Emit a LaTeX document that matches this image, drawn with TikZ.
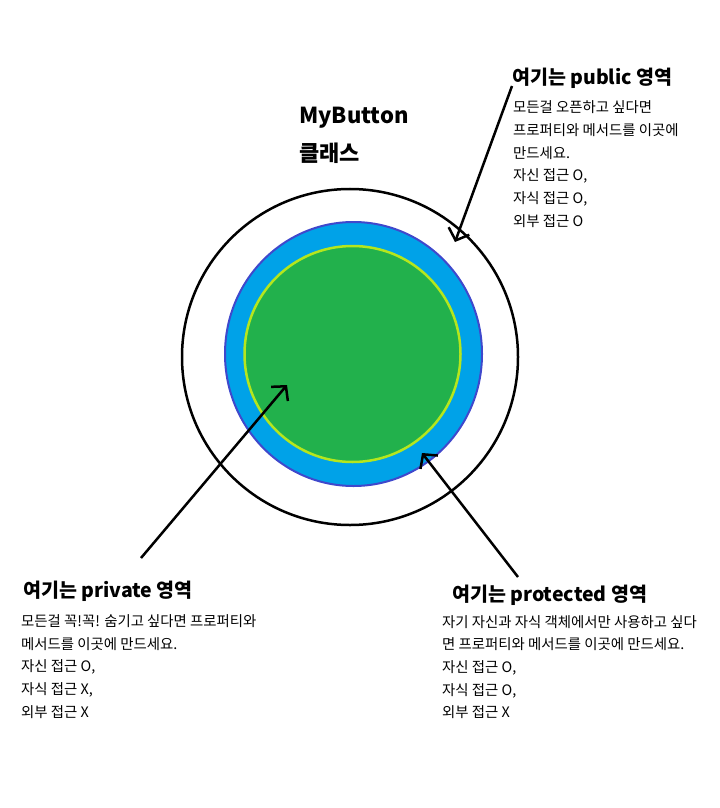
\documentclass[tikz,border=0pt]{standalone}
\usepackage{fontspec}
\setmainfont{Noto Sans CJK KR}
\usetikzlibrary{arrows.meta,shapes.geometric}
\definecolor{paintblue}{HTML}{00A2E8}
\definecolor{paintindigo}{HTML}{3F48CC}
\definecolor{paintgreen}{HTML}{22B14C}
\definecolor{paintlime}{HTML}{B5E61D}

\begin{document}
\begin{tikzpicture}[x=1bp,y=-1bp,>={Straight Barb[length=10bp,width=22bp]},
    pointer/.style={line width=2.5bp,->},
    title/.style={font=\fontsize{22bp}{26bp}\selectfont\bfseries,anchor=base west,inner sep=0},
    head/.style={font=\fontsize{19.5bp}{23bp}\selectfont\bfseries,anchor=base west,inner sep=0},
    body/.style={font=\fontsize{14.4bp}{17bp}\selectfont,anchor=base west,inner sep=0}]
  \useasboundingbox (0,0) rectangle (720,808);

  % the class and its three areas
  \node[circle,draw,line width=2.5bp,minimum size=336bp,inner sep=0] (class) at (350,357) {};
  \node[ellipse,draw=paintindigo,fill=paintblue,line width=2bp,
        minimum width=257bp,minimum height=264bp,inner sep=0] (protected) at (353.5,354) {};
  \node[circle,draw=paintlime,fill=paintgreen,line width=2.5bp,
        minimum size=216bp,inner sep=0] (private) at (352.5,354) {};

  \node[title] (name) at (299,123) {MyButton};
  \node[title] (kind) at (299,161) {클래스};

  % public
  \node[head] (pubhead) at (512,84) {여기는 public 영역};
  \foreach \line [count=\i] in {{모든걸 오픈하고 싶다면},{프로퍼티와 메서드를 이곳에},{만드세요.},
      {자신 접근 O,},{자식 접근 O,},{외부 접근 O}}
    \node[body] (pub\i) at (513,112.5+22.8*\i-22.8) {\line};

  % private
  \node[head] (privhead) at (23,597) {여기는 private 영역};
  \foreach \line [count=\i] in {{모든걸 꼭!꼭! 숨기고 싶다면 프로퍼티와},{메서드를 이곳에 만드세요.},
      {자신 접근 O,},{자식 접근 X,},{외부 접근 X}}
    \node[body] (priv\i) at (21,626.5+22.7*\i-22.7) {\line};

  % protected
  \node[head] (prothead) at (452,601) {여기는 protected 영역};
  \foreach \line [count=\i] in {{자기 자신과 자식 객체에서만 사용하고 싶다},{면 프로퍼티와 메서드를 이곳에 만드세요.},
      {자신 접근 O,},{자식 접근 O,},{외부 접근 X}}
    \node[body] (prot\i) at (442,627+22.7*\i-22.7) {\line};

  % pointers
  \coordinate (pubfrom) at (512,86);
  \coordinate (pubto) at (455,242);
  \coordinate (privfrom) at (141,558);
  \coordinate (privto) at (287,385);
  \coordinate (protfrom) at (518,577);
  \coordinate (protto) at (422,453);
  \draw[pointer] (pubfrom) -- (pubto);
  \draw[pointer] (privfrom) -- (privto);
  \draw[pointer] (protfrom) -- (protto);
\end{tikzpicture}
\end{document}
